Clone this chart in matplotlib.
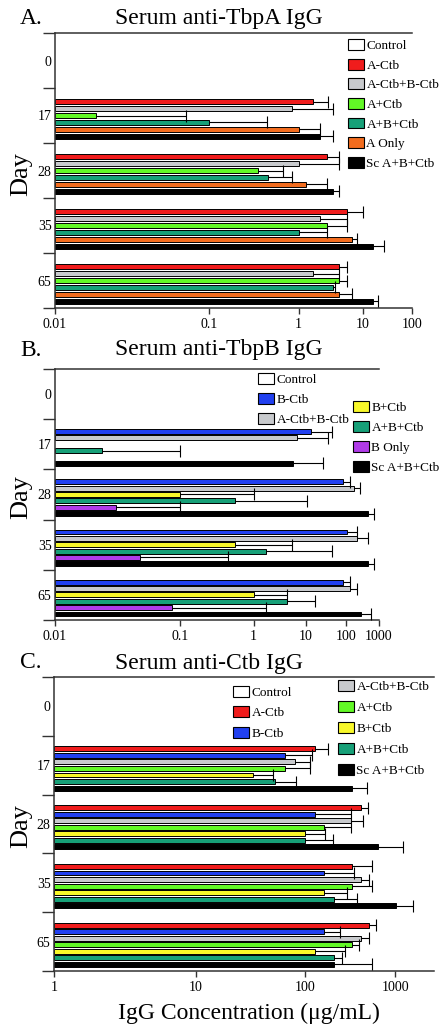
import numpy as np
import matplotlib
matplotlib.use('Agg')
import matplotlib.pyplot as plt
from matplotlib.patches import Patch
from matplotlib.ticker import FixedLocator, NullLocator, FixedFormatter, NullFormatter

plt.rcParams['font.family'] = ['Liberation Serif', 'DejaVu Serif']

nan = np.nan
days = ['0', '17', '28', '35', '65']

# ---------------- Panel A: Serum anti-TbpA IgG ----------------
a_labels = ['Control', 'A-Ctb', 'A-Ctb+B-Ctb', 'A+Ctb', 'A+B+Ctb', 'A Only', 'Sc A+B+Ctb']
a_colors = ['#ffffff', '#f01c1c', '#c8cacd', '#62f826', '#17a078', '#f26c1e', '#000000']
a_mean = [
    [nan, nan, nan, nan, nan],
    [nan, 1.60, 2.59, 5.38, 4.01],
    [nan, 0.81, 1.02, 2.01, 1.60],
    [nan, 0.0159, 0.317, 2.53, 4.01],
    [nan, 0.10, 0.406, 1.01, 3.21],
    [nan, 1.02, 1.26, 6.44, 4.01],
    [nan, 2.01, 3.21, 15.9, 15.9],
]
a_upper = [
    [nan, nan, nan, nan, nan],
    [nan, 2.69, 4.01, 10.1, 5.38],
    [nan, 3.21, 4.01, 5.38, 4.01],
    [nan, 0.0635, 0.63, 5.38, 5.38],
    [nan, 0.40, 0.81, 2.53, 3.43],
    [nan, 2.01, 2.53, 8.09, 6.44],
    [nan, 3.14, 4.01, 25.6, 19.8],
]
a_ticks = [0.01, 0.1, 1, 10, 100]
a_ticklabels = ['0.01', '0.1', '1', '10', '100']

# ---------------- Panel B: Serum anti-TbpB IgG ----------------
b_labels = ['Control', 'B-Ctb', 'A-Ctb+B-Ctb', 'B+Ctb', 'A+B+Ctb', 'B Only', 'Sc A+B+Ctb']
b_colors = ['#ffffff', '#2140f0', '#c8cacd', '#f8f82a', '#17a078', '#b03be8', '#000000']
b_mean = [
    [nan, nan, nan, nan, nan],
    [nan, 13.2, 84, 108, 84],
    [nan, 6.58, 168, 209, 129],
    [nan, nan, 0.10, 0.508, 1.01],
    [nan, 0.0199, 0.508, 1.63, 3.97],
    [nan, nan, 0.025, 0.0398, 0.0805],
    [nan, 5.27, 431, 431, 270],
]
b_upper = [
    [nan, nan, nan, nan, nan],
    [nan, 41.4, 129, 209, 129],
    [nan, 34.1, 252, 431, 209],
    [nan, nan, 1.01, 5.19, 3.97],
    [nan, 0.099, 10.5, 41.4, 16.3],
    [nan, nan, 0.10, 0.396, 1.63],
    [nan, 25.7, 683, 683, 535],
]
b_ticks = [0.01, 0.1, 1, 10, 100, 1000]
b_ticklabels = ['0.01', '0.1', '1', '10', '100', '1000']

# ---------------- Panel C: Serum anti-Ctb IgG ----------------
c_labels = ['Control', 'A-Ctb', 'B-Ctb', 'A-Ctb+B-Ctb', 'A+Ctb', 'B+Ctb', 'A+B+Ctb', 'Sc A+B+Ctb']
c_colors = ['#ffffff', '#f01c1c', '#2140f0', '#c8cacd', '#62f826', '#f8f82a', '#17a078', '#000000']
c_mean = [
    [nan, nan, nan, nan, nan],
    [nan, 126, 398, 311, 494],
    [nan, 62.7, 126, 157, 157],
    [nan, 78.7, 306, 398, 398],
    [nan, 62.7, 156, 311, 311],
    [nan, 31.5, 99, 157, 126],
    [nan, 50.1, 99, 199, 199],
    [nan, 317, 630, 1018, 199],
]
c_upper = [
    [nan, nan, nan, nan, nan],
    [nan, 173, 482, 535, 592],
    [nan, 116, 306, 330, 231],
    [nan, 111, 423, 494, 494],
    [nan, 111, 306, 535, 378],
    [nan, 47.6, 160, 274, 262],
    [nan, 79.8, 196, 354, 241],
    [nan, 461, 1262, 1656, 535],
]
c_ticks = [1, 10, 100, 1000]
c_ticklabels = ['1', '10', '100', '1000']


def fwd(x):
    x = np.asarray(x, float)
    with np.errstate(all='ignore'):
        u = np.log10(np.clip(x, 1e-300, None)) + 3
        return np.log10(np.clip(u, 1e-12, None))


def inv(y):
    with np.errstate(all='ignore'):
        return 10 ** (10 ** np.asarray(y, float) - 3)


W, H = 444, 1034
fig = plt.figure(figsize=(W / 100, H / 100), dpi=100)


def px_axes(left, top, right, bottom):
    return fig.add_axes([left / W, 1 - bottom / H, (right - left) / W, (bottom - top) / H])


SPINE = '#333333'


def panel(box, labels, colors, mean, upper, xmin, xmax, ticks, ticklabels):
    ax = px_axes(*box)
    ax.set_xscale('function', functions=(fwd, inv))
    n = len(labels)
    pad = 0.055
    slot = (1 - 2 * pad) / n
    ng = len(days)
    for j in range(n):
        yc = np.arange(ng) + pad + (j + 0.5) * slot
        m = np.asarray(mean[j], float)
        u = np.asarray(upper[j], float)
        ok = ~np.isnan(m)
        if not ok.any():
            continue
        ax.barh(yc[ok], m[ok] - xmin, left=xmin, height=slot * 0.76,
                color=colors[j], edgecolor='black', linewidth=0.7, zorder=2)
        cont = ax.errorbar(m[ok], yc[ok], xerr=[np.zeros(ok.sum()), u[ok] - m[ok]],
                           fmt='none', ecolor='black', elinewidth=0.8,
                           capsize=4, capthick=0.8, zorder=3)
        caps = cont[1]
        if len(caps) > 0:
            caps[0].set_visible(False)
    ax.set_xlim(xmin, xmax)
    ax.set_ylim(ng, 0)
    ax.xaxis.set_major_locator(FixedLocator(ticks))
    ax.xaxis.set_major_formatter(FixedFormatter(ticklabels))
    ax.xaxis.set_minor_locator(NullLocator())
    ax.yaxis.set_major_locator(FixedLocator(np.arange(ng + 1)))
    ax.yaxis.set_major_formatter(NullFormatter())
    ax.yaxis.set_minor_locator(FixedLocator(np.arange(ng) + 0.5))
    ax.yaxis.set_minor_formatter(FixedFormatter(days))
    ax.tick_params(axis='x', which='major', direction='out', length=4.5, width=1.0,
                   color=SPINE, pad=2.5, labelsize=10)
    ax.tick_params(axis='y', which='major', direction='out', length=8.6, width=1.0,
                   color=SPINE)
    ax.tick_params(axis='y', which='minor', length=0, pad=2.5, labelsize=10)
    ax.spines['right'].set_visible(False)
    for s in ['left', 'top', 'bottom']:
        ax.spines[s].set_color(SPINE)
        ax.spines[s].set_linewidth(1.1)
    ax.set_facecolor('none')
    return ax


def legend(labels, colors, x, y, spacing):
    handles = [Patch(facecolor=c, edgecolor='black', linewidth=0.8, label=l)
               for l, c in zip(labels, colors)]
    fig.legend(handles=handles, loc='upper left', bbox_to_anchor=(x / W, 1 - y / H),
               frameon=False, fontsize=9.5, handlelength=1.2, handleheight=0.9,
               handletextpad=0.2, labelspacing=spacing, borderpad=0, borderaxespad=0)


def titles(letter, title, y, axcenter):
    fig.text(20 / W, 1 - y / H, letter, fontsize=17, ha='left', va='center')
    fig.text(115 / W, 1 - y / H, title, fontsize=17, ha='left', va='center')
    fig.text(21 / W, 1 - axcenter / H, 'Day', fontsize=19, rotation=90,
             ha='center', va='center')


# Panel A
panel((55, 33, 412, 308), a_labels, a_colors, a_mean, a_upper, 0.01, 100, a_ticks, a_ticklabels)
legend(a_labels, a_colors, 348, 39, 0.5)
titles('A.', 'Serum anti-TbpA IgG', 18, 174)

# Panel B
panel((55, 369, 379, 620), b_labels, b_colors, b_mean, b_upper, 0.01, 1000, b_ticks, b_ticklabels)
legend(b_labels[:3], b_colors[:3], 258, 373, 0.52)
legend(b_labels[3:], b_colors[3:], 353, 401, 0.52)
titles('B.', 'Serum anti-TbpB IgG', 350, 497)

# Panel C
panel((54, 677, 434, 971), c_labels, c_colors, c_mean, c_upper, 1, 3120, c_ticks, c_ticklabels)
legend(c_labels[:3], c_colors[:3], 233, 686, 0.55)
legend(c_labels[3:], c_colors[3:], 338, 680, 0.6)
titles('C.', 'Serum anti-Ctb IgG', 663, 826)

fig.text(249 / W, 1 - 1013 / H, 'IgG Concentration (\u03bcg/mL)', fontsize=17,
         ha='center', va='center')

fig.savefig('out.png', dpi=100)
